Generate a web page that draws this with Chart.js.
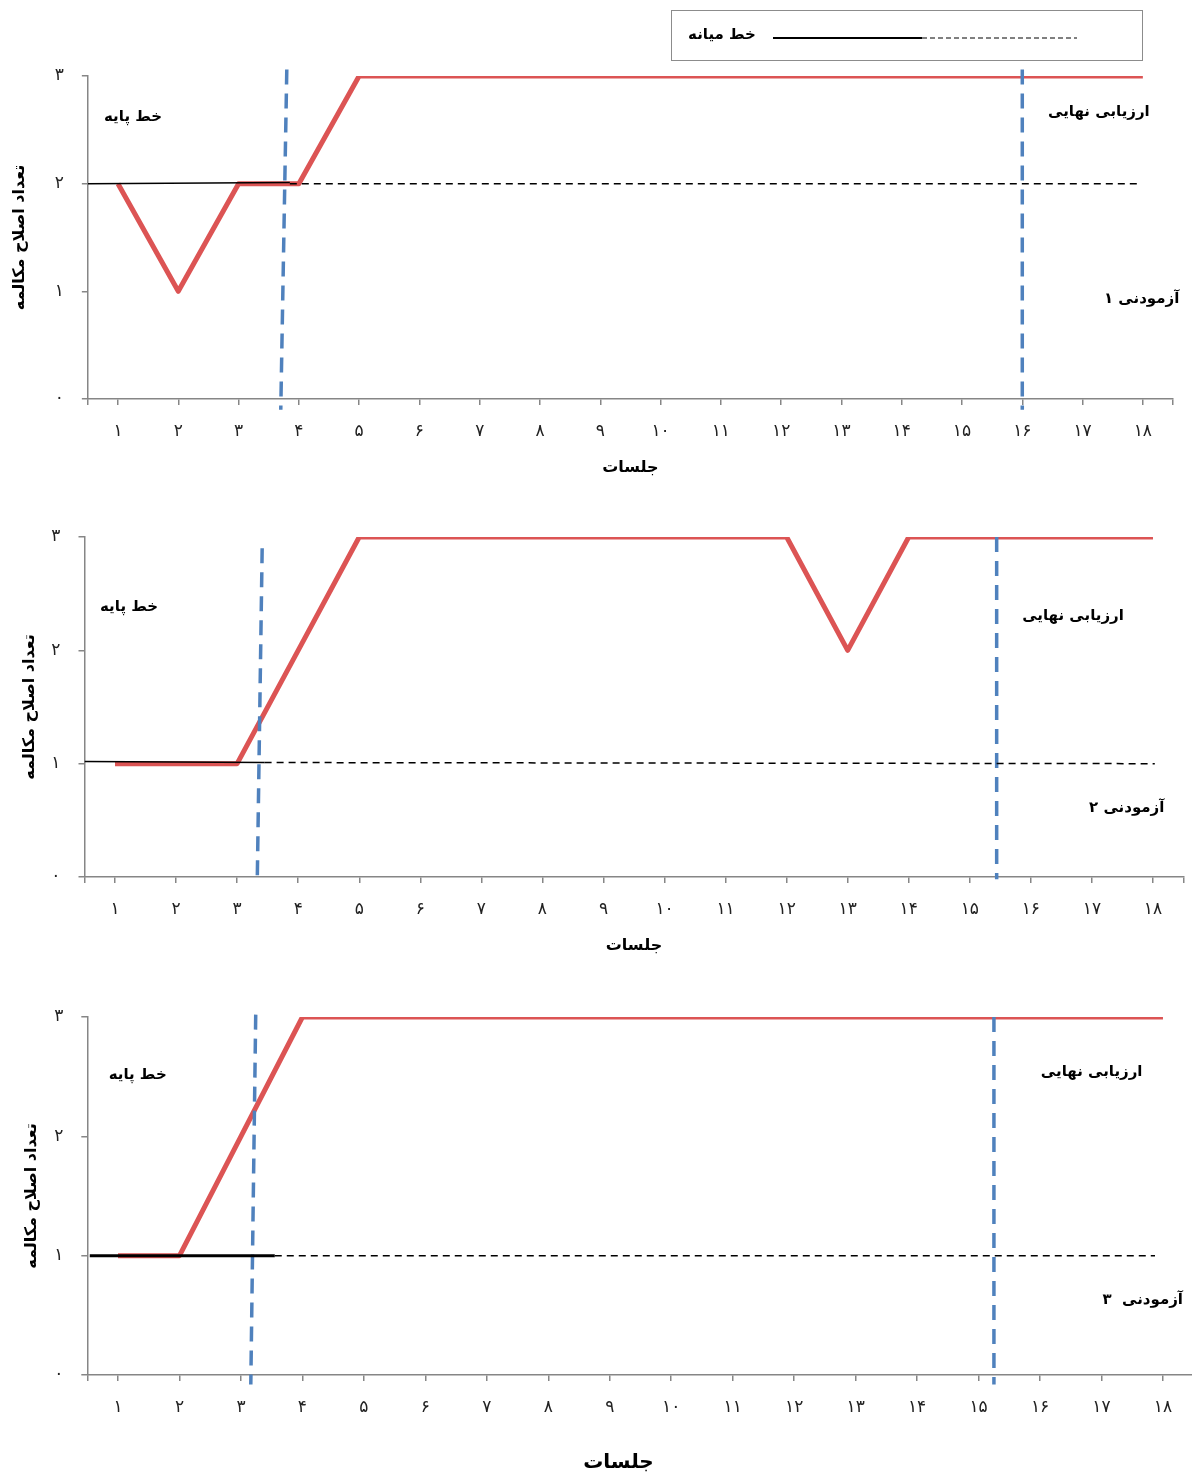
<!DOCTYPE html>
<html>
<head>
<meta charset="utf-8">
<script src="https://cdn.jsdelivr.net/npm/chart.js@4.4.1/dist/chart.umd.min.js"></script>
<style>
  html, body { margin: 0; padding: 0; background: #fff; overflow: hidden; width: 1192px; height: 1477px; }
  canvas { position: absolute; left: 0; }
</style>
</head>
<body>
<canvas id="c1" width="1192" height="500" style="top:0"></canvas>
<canvas id="c2" width="1192" height="470" style="top:500px"></canvas>
<canvas id="c3" width="1200" height="507" style="top:970px"></canvas>
<script>
// sessions and tick labels
const sessions = [1, 2, 3, 4, 5, 6, 7, 8, 9, 10, 11, 12, 13, 14, 15, 16, 17, 18];
const tickLabels = ['۱', '۲', '۳', '۴', '۵', '۶', '۷', '۸', '۹', '۱۰', '۱۱', '۱۲', '۱۳', '۱۴', '۱۵', '۱۶', '۱۷', '۱۸'];
const yTickLabels = ['۰', '۱', '۲', '۳'];

// corrections per session, one array per subject
const subject1 = [2, 1, 2, 2, 3, 3, 3, 3, 3, 3, 3, 3, 3, 3, 3, 3, 3, 3];
const subject2 = [1, 1, 1, 2, 3, 3, 3, 3, 3, 3, 3, 3, 2, 3, 3, 3, 3, 3];
const subject3 = [1, 1, 2, 3, 3, 3, 3, 3, 3, 3, 3, 3, 3, 3, 3, 3, 3, 3];

// median line: [x, y] ends of the solid (baseline) part and the dashed extension
const median1Solid = [[0.5, 2], [3.85, 2.01]];
const median1Dash = [[3.85, 2], [17.95, 2]];
const median2Solid = [[0.5, 1.02], [3.45, 1.01]];
const median2Dash = [[3.45, 1.01], [18.03, 1.0]];
const median3Solid = [[0.54, 1], [3.55, 1]];
const median3Dash = [[3.55, 1], [17.87, 1]];

// phase change lines (start of treatment, final assessment)
const phase1 = [[[3.80, 3.06], [3.70, -0.1]], [[16.0, 3.06], [16.0, -0.1]]];
const phase2 = [[[3.41, 2.90], [3.33, -0.02]], [[15.44, 3.0], [15.44, -0.02]]];
const phase3 = [[[3.24, 3.02], [3.16, -0.08]], [[15.25, 3.0], [15.25, -0.08]]];

const xTicks = [0.5].concat(sessions, [18.5]);
const FONT = '"DejaVu Sans", sans-serif';
Chart.defaults.font.family = FONT;

const toPts = arr => arr.map(p => ({ x: p[0], y: p[1] }));

const textPlugin = {
  id: 'texts',
  afterDraw(chart, args, o) {
    const ctx = chart.ctx;
    const a = chart.chartArea;
    const xs = chart.scales.x, ys = chart.scales.y;
    ctx.save();
    ctx.fillStyle = '#000';
    ctx.direction = 'rtl';
    ctx.textAlign = 'center';
    ctx.textBaseline = 'middle';
    ctx.font = 'bold 15px ' + FONT;
    o.notes.forEach(n => {
      ctx.fillText(n.t, xs.getPixelForValue(n.x), ys.getPixelForValue(n.y));
    });
    // x title
    ctx.font = 'bold ' + o.xTitleSize + 'px ' + FONT;
    ctx.fillText('جلسات', (a.left + a.right) / 2 + o.xTitleDx, a.bottom + o.xTitleDy);
    // y title
    ctx.font = 'bold 16px ' + FONT;
    ctx.translate(o.yTitleX, (a.top + a.bottom) / 2);
    ctx.rotate(-Math.PI / 2);
    ctx.fillText('تعداد اصلاح مکالمه', 0, 0);
    ctx.restore();

    if (o.legend) {
      ctx.save();
      ctx.strokeStyle = '#8c8c8c';
      ctx.lineWidth = 1;
      ctx.strokeRect(671.5, 10.5, 471, 50);
      ctx.fillStyle = '#000';
      ctx.direction = 'rtl';
      ctx.textAlign = 'center';
      ctx.textBaseline = 'middle';
      ctx.font = 'bold 15px ' + FONT;
      ctx.fillText('خط میانه', 722, 35);
      ctx.strokeStyle = '#000';
      ctx.lineWidth = 2;
      ctx.beginPath(); ctx.moveTo(773, 38); ctx.lineTo(922, 38); ctx.stroke();
      ctx.lineWidth = 1;
      ctx.setLineDash([5, 3]);
      ctx.beginPath(); ctx.moveTo(922, 38); ctx.lineTo(1077, 38); ctx.stroke();
      ctx.restore();
    }
  }
};

function makeChart(id, s) {
  const el = document.getElementById(id);
  const phaseSets = s.phases.map(p => ({
    data: toPts(p), borderColor: '#4f81bd', borderWidth: 3.5, borderDash: [15, 9],
    clip: false, order: 1
  }));
  return new Chart(el, {
    type: 'line',
    data: {
      datasets: [
        { data: toPts(s.medianSolid), borderColor: '#000', borderWidth: s.medianWidth, order: 0 },
        { data: toPts(s.medianDash), borderColor: '#000', borderWidth: 1.5, borderDash: [7, 5], order: 0 },
        ...phaseSets,
        {
          data: sessions.map((x, i) => ({ x: x, y: s.values[i] })),
          borderColor: '#dc5454', borderWidth: 5, order: 2
        }
      ]
    },
    options: {
      responsive: false,
      animation: false,
      devicePixelRatio: 1,
      layout: { padding: { top: s.area.top, right: el.width - s.area.right, left: 0, bottom: 0 } },
      elements: {
        point: { radius: 0 },
        line: { tension: 0, borderCapStyle: 'butt', borderJoinStyle: 'round' }
      },
      plugins: {
        legend: { display: false },
        tooltip: { enabled: false },
        texts: s.texts
      },
      scales: {
        x: {
          type: 'linear', min: 0.5, max: 18.5,
          afterBuildTicks: sc => { sc.ticks = xTicks.map(v => ({ value: v })); },
          afterFit: sc => {
            sc.height = el.height - s.area.bottom;
            sc.paddingLeft = 0;
            sc.paddingRight = 0;
          },
          ticks: {
            autoSkip: false, maxRotation: 0, padding: 16, color: '#222', font: { size: 17 },
            callback: v => { const i = sessions.indexOf(v); return i >= 0 ? tickLabels[i] : ''; }
          },
          grid: { drawOnChartArea: false, tickLength: 6, color: '#868686', lineWidth: 1.5 },
          border: { color: '#868686', width: 1.5 }
        },
        y: {
          min: 0, max: 3,
          afterFit: sc => {
            sc.width = s.area.left;
            sc.paddingTop = 0;
            sc.paddingBottom = 0;
          },
          ticks: { stepSize: 1, padding: 18, color: '#222', font: { size: 17 }, callback: v => yTickLabels[v] },
          grid: { drawOnChartArea: false, tickLength: 6, color: '#868686', lineWidth: 1.5 },
          border: { color: '#868686', width: 1.5 }
        }
      }
    },
    plugins: [textPlugin]
  });
}

makeChart('c1', {
  area: { left: 87.85, right: 1173, top: 76, bottom: 399 },
  values: subject1, medianSolid: median1Solid, medianDash: median1Dash, medianWidth: 1.5, phases: phase1,
  texts: {
    legend: true, yTitleX: 20, xTitleDx: 0, xTitleDy: 69, xTitleSize: 16,
    notes: [
      { t: 'خط پایه', x: 1.25, y: 2.62 },
      { t: 'ارزیابی نهایی', x: 17.27, y: 2.66 },
      { t: 'آزمودنی ۱', x: 17.98, y: 0.93 }
    ]
  }
});

makeChart('c2', {
  area: { left: 84.5, right: 1183.5, top: 37, bottom: 377 },
  values: subject2, medianSolid: median2Solid, medianDash: median2Dash, medianWidth: 1.5, phases: phase2,
  texts: {
    legend: false, yTitleX: 30, xTitleDx: 0, xTitleDy: 69, xTitleSize: 16,
    notes: [
      { t: 'خط پایه', x: 1.23, y: 2.38 },
      { t: 'ارزیابی نهایی', x: 16.69, y: 2.30 },
      { t: 'آزمودنی ۲', x: 17.57, y: 0.61 }
    ]
  }
});

makeChart('c3', {
  area: { left: 87.3, right: 1193.7, top: 47, bottom: 405 },
  values: subject3, medianSolid: median3Solid, medianDash: median3Dash, medianWidth: 3, phases: phase3,
  texts: {
    legend: false, yTitleX: 32, xTitleDx: -22, xTitleDy: 88, xTitleSize: 20,
    notes: [
      { t: 'خط پایه', x: 1.32, y: 2.51 },
      { t: 'ارزیابی نهایی', x: 16.84, y: 2.54 },
      { t: 'آزمودنی  ۳', x: 17.67, y: 0.63 }
    ]
  }
});
</script>
</body>
</html>
